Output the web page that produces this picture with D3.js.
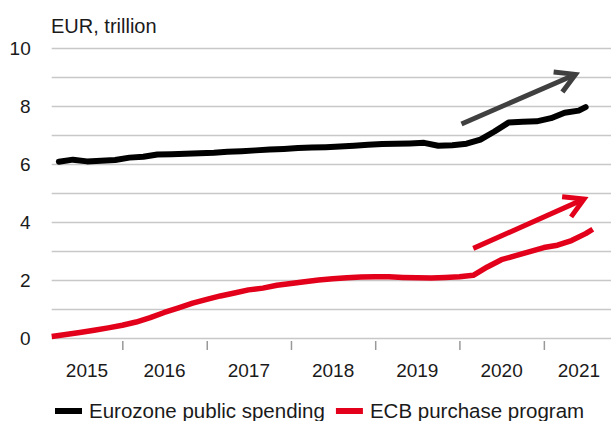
<!DOCTYPE html>
<html>
<head>
<meta charset="utf-8">
<script src="https://cdn.jsdelivr.net/npm/d3@7"></script>
<style>
  body { margin: 0; background: #fff; }
  svg { display: block; font-family: "Liberation Sans", Arial, sans-serif; }
</style>
</head>
<body>
<svg id="chart"></svg>
<script>
// monthly observations, EUR trillion
var blackDates = [
  "2015-04", "2015-06", "2015-08", "2015-10", "2015-12",
  "2016-02", "2016-04", "2016-06", "2016-08", "2016-10", "2016-12",
  "2017-02", "2017-04", "2017-06", "2017-08", "2017-10", "2017-12",
  "2018-02", "2018-04", "2018-06", "2018-08", "2018-10", "2018-12",
  "2019-02", "2019-04", "2019-06", "2019-08", "2019-10", "2019-12",
  "2020-02", "2020-04", "2020-06", "2020-08", "2020-10", "2020-12",
  "2021-02", "2021-04", "2021-06", "2021-07"
];
var blackValues = [
  6.08, 6.15, 6.09, 6.11, 6.14,
  6.22, 6.25, 6.33, 6.34, 6.35, 6.37,
  6.39, 6.42, 6.44, 6.47, 6.50, 6.52,
  6.55, 6.57, 6.58, 6.60, 6.63, 6.66,
  6.69, 6.70, 6.71, 6.73, 6.63, 6.65,
  6.70, 6.84, 7.12, 7.43, 7.46, 7.47,
  7.58, 7.77, 7.84, 7.96
];

var redDates = [
  "2015-03", "2015-05", "2015-07", "2015-09", "2015-11",
  "2016-01", "2016-03", "2016-05", "2016-07", "2016-09", "2016-11",
  "2017-01", "2017-03", "2017-05", "2017-07", "2017-09", "2017-11",
  "2018-01", "2018-03", "2018-05", "2018-07", "2018-09", "2018-11",
  "2019-01", "2019-03", "2019-05", "2019-07", "2019-09", "2019-11",
  "2020-01", "2020-03", "2020-05", "2020-07", "2020-09", "2020-11",
  "2021-01", "2021-03", "2021-05", "2021-07", "2021-08"
];
var redValues = [
  0.05, 0.12, 0.19, 0.27, 0.35,
  0.44, 0.55, 0.70, 0.88, 1.04, 1.20,
  1.33, 1.45, 1.55, 1.66, 1.72, 1.82,
  1.88, 1.94, 2.00, 2.04, 2.08, 2.10,
  2.11, 2.11, 2.09, 2.08, 2.07, 2.09,
  2.11, 2.16, 2.45, 2.70, 2.84, 2.98,
  3.12, 3.20, 3.36, 3.60, 3.75
];

var years = [2015, 2016, 2017, 2018, 2019, 2020, 2021];
var yTicks = [0, 2, 4, 6, 8, 10];
var seriesNames = ["Eurozone public spending", "ECB purchase program"];

// trend arrows: [start date, start value, end date, end value]
var blackArrow = ["2020-01-10", 7.38, "2021-05-18", 9.09];
var redArrow = ["2020-03-01", 3.09, "2021-06-24", 4.79];

var W = 611, H = 421;
var black = "#000000", red = "#e3001b", arrowGrey = "#404040";

var parseMonth = d3.timeParse("%Y-%m");
var parseDay = d3.timeParse("%Y-%m-%d");

var x = d3.scaleTime()
  .domain([parseMonth("2015-03"), parseMonth("2021-11")])
  .range([51.7, 614]);
var y = d3.scaleLinear().domain([0, 10]).range([338, 48]);

var svg = d3.select("#chart").attr("width", W).attr("height", H);

// gridlines every 1
svg.append("g")
  .attr("transform", "translate(" + x.range()[0] + ",0)")
  .call(d3.axisLeft(y).tickValues(d3.range(0, 11)).tickSize(-(x.range()[1] - x.range()[0])).tickFormat(""))
  .call(function(g) { g.select(".domain").remove(); })
  .selectAll("line")
  .attr("stroke", "#c8c8c8")
  .attr("stroke-width", 1.5);

// y labels
svg.append("g")
  .attr("transform", "translate(" + x.range()[0] + ",0)")
  .call(d3.axisLeft(y).tickValues(yTicks).tickSize(0).tickPadding(21))
  .call(function(g) { g.select(".domain").remove(); })
  .selectAll("text")
  .attr("fill", "#1a1a1a")
  .style("font-family", "inherit")
  .style("font-size", "19px");

svg.append("text")
  .attr("x", 51)
  .attr("y", 33)
  .attr("fill", "#1a1a1a")
  .style("font-size", "20px")
  .text("EUR, trillion");

// year boundary ticks
var yearStarts = years.slice(1).map(function(yr) { return new Date(yr, 0, 1); });
svg.append("g")
  .attr("transform", "translate(0," + (y(0) + 3) + ")")
  .call(d3.axisBottom(x).tickValues(yearStarts).tickSize(9).tickFormat(""))
  .call(function(g) { g.select(".domain").remove(); })
  .selectAll("line")
  .attr("stroke", "#999")
  .attr("stroke-width", 1.5);

// year labels centred on the visible part of each year
var d0 = x.domain()[0], d1 = x.domain()[1];
svg.append("g").selectAll("text")
  .data(years)
  .enter().append("text")
  .attr("x", function(yr) {
    var a = new Date(Math.max(new Date(yr, 0, 1), d0));
    var b = new Date(Math.min(new Date(yr + 1, 0, 1), d1));
    return (x(a) + x(b)) / 2;
  })
  .attr("y", 377)
  .attr("text-anchor", "middle")
  .attr("fill", "#1a1a1a")
  .style("font-size", "19px")
  .text(function(yr) { return yr; });

var line = d3.line()
  .x(function(d) { return x(d.date); })
  .y(function(d) { return y(d.value); });

var blackData = blackDates.map(function(d, i) { return { date: parseMonth(d), value: blackValues[i] }; });
var redData = redDates.map(function(d, i) { return { date: parseMonth(d), value: redValues[i] }; });

svg.append("path")
  .datum(redData)
  .attr("d", line)
  .attr("fill", "none")
  .attr("stroke", red)
  .attr("stroke-width", 5.5)
  .attr("stroke-linejoin", "round");

svg.append("path")
  .datum(blackData)
  .attr("d", line)
  .attr("fill", "none")
  .attr("stroke", black)
  .attr("stroke-width", 6)
  .attr("stroke-linejoin", "round")
  .attr("stroke-linecap", "round");

function drawArrow(a, colour) {
  var x1 = x(parseDay(a[0])), y1 = y(a[1]);
  var x2 = x(parseDay(a[2])), y2 = y(a[3]);
  var ang = Math.atan2(y1 - y2, x1 - x2);
  var len = 22, spread = Math.PI / 6;
  svg.append("line")
    .attr("x1", x1).attr("y1", y1)
    .attr("x2", x2 + Math.cos(ang) * 2).attr("y2", y2 + Math.sin(ang) * 2)
    .attr("stroke", colour)
    .attr("stroke-width", 5);
  var head = [
    [x2 + Math.cos(ang + spread) * len, y2 + Math.sin(ang + spread) * len],
    [x2, y2],
    [x2 + Math.cos(ang - spread) * len, y2 + Math.sin(ang - spread) * len]
  ];
  svg.append("path")
    .attr("d", d3.line()(head))
    .attr("fill", "none")
    .attr("stroke", colour)
    .attr("stroke-width", 5)
    .attr("stroke-linejoin", "miter");
}
drawArrow(blackArrow, arrowGrey);
drawArrow(redArrow, red);

// legend
var legend = svg.append("g").attr("transform", "translate(0,411)");
var lx = 55;
[black, red].forEach(function(c, i) {
  legend.append("rect")
    .attr("x", lx).attr("y", -3)
    .attr("width", 27).attr("height", 6)
    .attr("fill", c);
  var t = legend.append("text")
    .attr("x", lx + 34)
    .attr("y", 7)
    .attr("fill", "#1a1a1a")
    .style("font-size", "20.5px")
    .text(seriesNames[i]);
  lx = lx + 34 + t.node().getComputedTextLength() + 11;
});
</script>
</body>
</html>
